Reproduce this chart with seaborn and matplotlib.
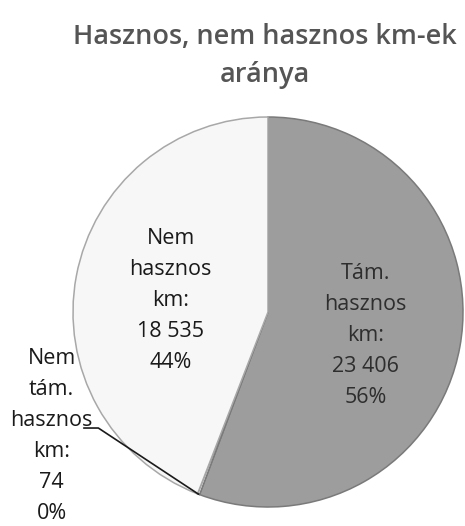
import matplotlib
matplotlib.use("Agg")
import matplotlib.pyplot as plt
import seaborn as sns
import numpy as np

sns.set_theme(style="white")
plt.rcParams['font.family'] = ['Open Sans', 'DejaVu Sans']

# Data
categories = ["Tám. hasznos km", "Nem tám. hasznos km", "Nem hasznos km"]
values = [23406, 74, 18535]
value_labels = ["23 406", "74", "18 535"]
pct_labels = ["56%", "0%", "44%"]
title = "Hasznos, nem hasznos km-ek\naránya"

colors = ["#9d9d9d", "#ffffff", "#f7f7f7"]

fig = plt.figure(figsize=(4.65, 5.26), dpi=100)
fig.patch.set_facecolor("white")
ax = fig.add_axes([0, 0, 1, 1])

W, H = 465, 526
cx, cy, R = 268, 312, 195

wedges, _ = ax.pie(values, colors=colors, startangle=90, counterclock=False,
                   wedgeprops=dict(edgecolor="#7a7a7a", linewidth=1.1))
wedges[2].set_edgecolor("#a8a8a8")
ax.set_xlim(-cx / R, (W - cx) / R)
ax.set_ylim(-(H - cy) / R, cy / R)
ax.axis("off")

# Title
fig.text(265 / W, 1 - 56 / H, title, ha="center", va="center", multialignment="center",
         fontsize=19.5, color="#555555", linespacing=1.45, fontweight="semibold")

def lbl(i):
    words = categories[i].split(" ")
    if i == 1:
        lines = [words[0], words[1], words[2], words[3] + ":"]
    else:
        lines = [words[0], words[1], words[2] + ":"]
    return "\n".join(lines + [value_labels[i], pct_labels[i]])

kw = dict(ha="center", va="center", multialignment="center", fontsize=15.5,
          linespacing=1.62)
ax.text(0.50, -0.12, lbl(0), color="#2e2e2e", **kw)
ax.text(-0.50, 0.06, lbl(2), color="#1a1a1a", **kw)

# small wedge label with leader line
w = wedges[1]
ang = np.deg2rad((w.theta1 + w.theta2) / 2)
px, py = np.cos(ang), np.sin(ang)
ax.text(-1.11, -0.635, lbl(1), color="#1a1a1a", **kw)
ax.plot([-0.945, -0.87, px], [-0.595, -0.595, py], color="#1a1a1a", lw=1.2)

fig.savefig("out.png", dpi=100, facecolor="white")
